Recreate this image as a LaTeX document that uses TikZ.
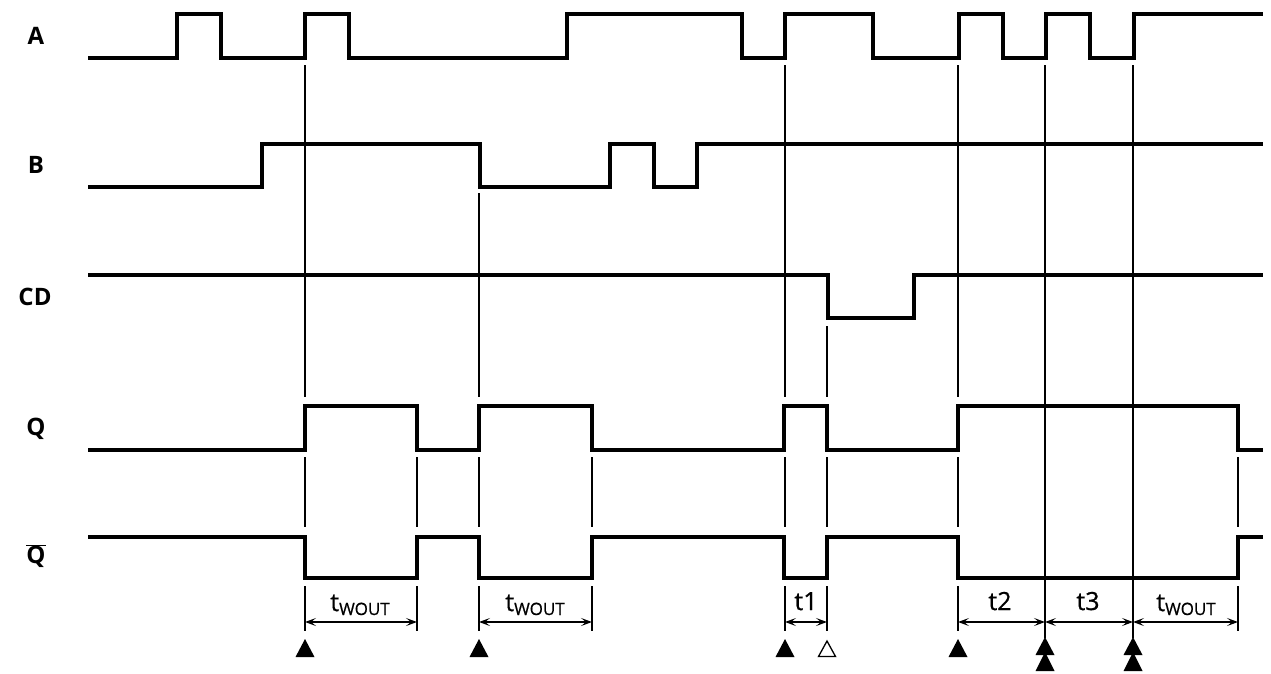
\documentclass[tikz,border=0pt]{standalone}
\usepackage{fontspec}
\setmainfont{Open Sans}
\newfontfamily\tfont{Open Sans}[FakeBold=0.7]
\usetikzlibrary{arrows.meta}
\begin{document}
\begin{tikzpicture}[x=1pt,y=-1pt,
  sig/.style={line width=3.6pt, line join=miter, line cap=butt},
  guide/.style={line width=1.3pt},
  dimline/.style={line width=1.3pt, {Stealth[length=11pt,width=8pt,inset=5pt]}-{Stealth[length=11pt,width=8pt,inset=5pt]}},
  lab/.style={font=\fontsize{24}{28}\selectfont\bfseries, anchor=center},
  tlab/.style={font=\tfont\fontsize{25}{28}\selectfont, anchor=base},
  tri/.style={fill=black},
  otri/.style={draw=black, line width=1.3pt, fill=white}
]
\useasboundingbox (0,0) rectangle (1271,673);
\newcommand{\wout}{t{\fontsize{17}{20}\selectfont\raisebox{-4pt}{WOUT}}}

% labels
\node[lab] (lA) at (36,36) {A};
\node[lab] (lB) at (36,165) {B};
\node[lab] (lCD) at (35,297) {CD};
\node[lab] (lQ) at (36,429) {Q};
\node[lab] (lQb) at (36,556) {$\overline{\hbox{\fontsize{24}{28}\selectfont\bfseries Q}}$};

% signals
\draw[sig] (88,58) -- (177,58) -- (177,14) -- (221,14) -- (221,58) -- (305,58) -- (305,14) -- (349,14) -- (349,58)
  -- (567,58) -- (567,14) -- (742,14) -- (742,58) -- (785,58) -- (785,14) -- (873,14) -- (873,58)
  -- (959,58) -- (959,14) -- (1003,14) -- (1003,58) -- (1046,58) -- (1046,14) -- (1090,14) -- (1090,58)
  -- (1134,58) -- (1134,14) -- (1263,14);
\draw[sig] (88,187) -- (262,187) -- (262,144) -- (480,144) -- (480,187) -- (610,187) -- (610,144) -- (654,144)
  -- (654,187) -- (697,187) -- (697,144) -- (1263,144);
\draw[sig] (88,275) -- (828,275) -- (828,318) -- (914,318) -- (914,275) -- (1263,275);
\draw[sig] (88,450) -- (305,450) -- (305,406) -- (417,406) -- (417,450) -- (479,450) -- (479,406) -- (592,406)
  -- (592,450) -- (784,450) -- (784,406) -- (827,406) -- (827,450) -- (958,450) -- (958,406) -- (1238,406)
  -- (1238,450) -- (1263,450);
\draw[sig] (88,537) -- (305,537) -- (305,578) -- (417,578) -- (417,537) -- (479,537) -- (479,578) -- (592,578)
  -- (592,537) -- (784,537) -- (784,578) -- (827,578) -- (827,537) -- (958,537) -- (958,578) -- (1238,578)
  -- (1238,537) -- (1263,537);

% guide lines
\foreach \x/\top in {305/65, 479/193, 785/65, 827/326, 958/65}{
  \draw[guide] (\x,\top) -- (\x,397);
}
\foreach \x in {305,417,479,592,785,827,958,1238}{
  \draw[guide] (\x,457) -- (\x,527);
  \draw[guide] (\x,586) -- (\x,631);
}
\draw[guide] (1045,65) -- (1045,638);
\draw[guide] (1133,65) -- (1133,638);

% dimension arrows
\foreach \i/\x in {1/305,2/417,3/479,4/592,5/785,6/827,7/958,8/1045,9/1133,10/1238}{
  \coordinate (d\i) at (\x,622);
}
\draw[dimline] (d1) -- (d2);
\draw[dimline] (d3) -- (d4);
\draw[dimline] (d5) -- (d6);
\draw[dimline] (d7) -- (d8);
\draw[dimline] (d8) -- (d9);
\draw[dimline] (d9) -- (d10);
\node[tlab] (w1) at (360,611) {\wout};
\node[tlab] (w2) at (535,611) {\wout};
\node[tlab] (t1) at (806,610) {t1};
\node[tlab] (t2) at (1000,610) {t2};
\node[tlab] (t3) at (1088,610) {t3};
\node[tlab] (w3) at (1186,611) {\wout};

% triangles
\foreach \x in {305,479,785,958}{
  \fill[tri] (\x,639) -- (\x+9.5,657) -- (\x-9.5,657) -- cycle;
}
\draw[otri] (827,641) -- (835.5,656.5) -- (818.5,656.5) -- cycle;
\foreach \x in {1045,1133}{
  \fill[tri] (\x,637) -- (\x+9.5,655) -- (\x-9.5,655) -- cycle;
  \fill[tri] (\x,652) -- (\x+9.5,671) -- (\x-9.5,671) -- cycle;
}
\end{tikzpicture}
\end{document}
